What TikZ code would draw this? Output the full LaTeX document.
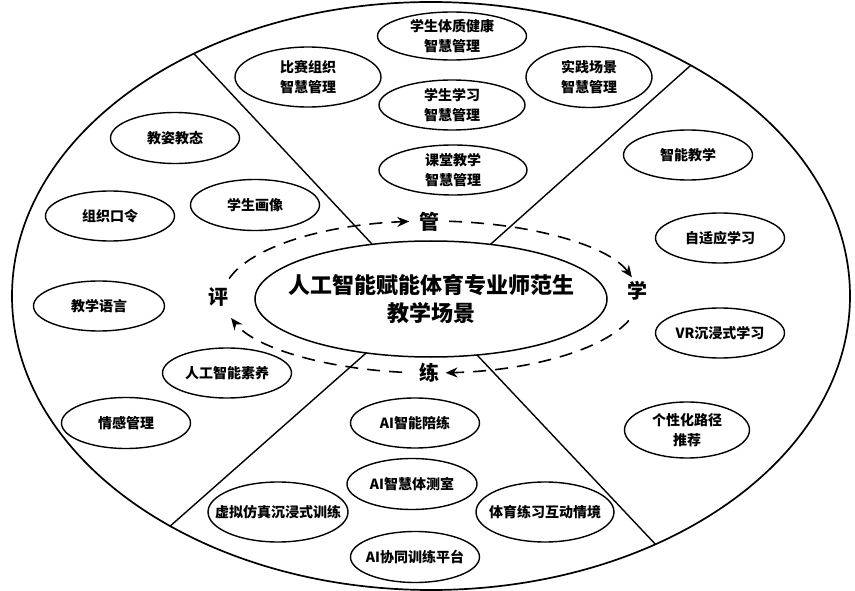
\documentclass[tikz,border=0pt]{standalone}
\usepackage{fontspec}
\setmainfont{Noto Sans CJK SC}
\usetikzlibrary{shapes.geometric,arrows.meta,calc}
\newcommand\bubble[5]{%
  \node[btext] (#1) at (#2) {#5};
  \draw[bubline] (#1.center) ellipse [x radius=#3/2, y radius=#4/2];}
\begin{document}
\begin{tikzpicture}[x=1pt,y=1pt,
  btext/.style={inner sep=0pt,align=center,font=\fontsize{14}{20}\selectfont\bfseries},
  bubline/.style={line width=1.4pt},
  divl/.style={line width=1.4pt},
  loopar/.style={dash pattern=on 13pt off 9pt,line width=1.6pt,
    -{Stealth[length=12pt,width=10pt]}},
  lab/.style={font=\fontsize{20}{20}\selectfont\bfseries,inner sep=0pt}]
\useasboundingbox (0,0) rectangle (855,-591);
\coordinate (O) at (431,-296);
\coordinate (O2) at (431,-297);
\draw[line width=1.7pt] (O) ellipse [x radius=419, y radius=294];
% dividing lines
\coordinate (a1) at (371,-243); \coordinate (b1) at (197,-57);
\coordinate (a2) at (492,-243); \coordinate (b2) at (690,-66);
\coordinate (a3) at (365,-354); \coordinate (b3) at (168,-528);
\coordinate (a4) at (478,-356); \coordinate (b4) at (658,-547);
\begin{scope}
\clip (O) ellipse [x radius=419, y radius=294];
\draw[divl] ($(b1)!1.05!(a1)$) -- ($(a1)!1.3!(b1)$);
\draw[divl] ($(b2)!1.05!(a2)$) -- ($(a2)!1.3!(b2)$);
\draw[divl] ($(b3)!1.05!(a3)$) -- ($(a3)!1.3!(b3)$);
\draw[divl] ($(b4)!1.05!(a4)$) -- ($(a4)!1.3!(b4)$);
\end{scope}
% centre
\node[ellipse,draw,fill=white,line width=1.5pt,minimum width=352pt,minimum height=116pt,
  inner sep=0pt] (C) at (431,-299) {};
\node[inner sep=0pt,align=center,font=\fontsize{22}{28}\selectfont\bfseries]
  (Ct) at (C.center) {人工智能赋能体育专业师范生\\教学场景};
% loop labels
\node[lab] (guan) at (429,-222) {管};
\node[lab] (xue) at (637,-291) {学};
\node[lab] (lian) at (429,-373) {练};
\node[lab] (ping) at (218,-297) {评};
% dashed loop
\draw[loopar] (O2) ++(166:208 and 76) arc[start angle=166, end angle=96, x radius=208, y radius=76];
\draw[loopar] (O2) ++(85:208 and 76) arc[start angle=85, end angle=15, x radius=208, y radius=76];
\draw[loopar] (O2) ++(-18:208 and 76) arc[start angle=-18, end angle=-86, x radius=208, y radius=76];
\draw[loopar] (O2) ++(-98:208 and 76) arc[start angle=-98, end angle=-164, x radius=208, y radius=76];
% top: 管
\bubble{g1}{308,-77}{146}{60}{比赛组织\\智慧管理}
\bubble{g2}{452,-36}{149}{48}{学生体质健康\\智慧管理}
\bubble{g3}{452,-105}{146}{50}{学生学习\\智慧管理}
\bubble{g4}{453,-170}{148}{50}{课堂教学\\智慧管理}
\bubble{g5}{589,-77}{126}{61}{实践场景\\智慧管理}
% right: 学
\bubble{x1}{688,-155}{129}{50}{智能教学}
\bubble{x2}{720,-238}{129}{50}{自适应学习}
\bubble{x3}{720,-333}{129}{50}{VR沉浸式学习}
\bubble{x4}{687,-430}{125}{56}{个性化路径\\推荐}
% bottom: 练
\bubble{l1}{415,-423}{129}{50}{AI智能陪练}
\bubble{l2}{412,-484}{130}{51}{AI智慧体测室}
\bubble{l3}{278,-512}{140}{60}{虚拟仿真沉浸式训练}
\bubble{l4}{545,-512}{138}{60}{体育练习互动情境}
\bubble{l5}{415,-557}{129}{51}{AI协同训练平台}
% left: 评
\bubble{p1}{175,-138}{129}{51}{教姿教态}
\bubble{p2}{110,-216}{129}{50}{组织口令}
\bubble{p3}{255,-205}{129}{51}{学生画像}
\bubble{p4}{99,-306}{131}{50}{教学语言}
\bubble{p5}{227,-373}{129}{50}{人工智能素养}
\bubble{p6}{126,-423}{129}{51}{情感管理}
\end{tikzpicture}
\end{document}
